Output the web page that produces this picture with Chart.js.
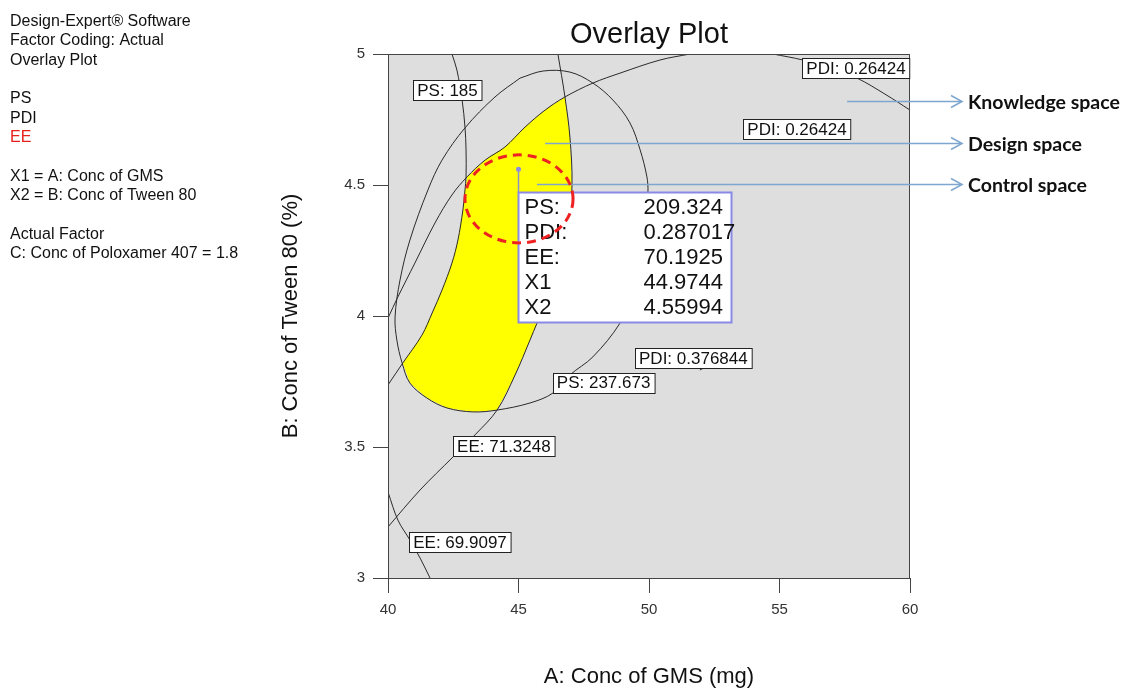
<!DOCTYPE html>
<html>
<head>
<meta charset="utf-8">
<title>Overlay Plot</title>
<script src="https://cdn.jsdelivr.net/npm/chart.js@4.4.0/dist/chart.umd.min.js"></script>
<style>
  html, body { margin: 0; padding: 0; background: #fff; }
  #wrap { position: relative; width: 1129px; height: 690px; }
</style>
</head>
<body>
<div id="wrap"><canvas id="overlay" width="1129" height="690"></canvas></div>
<script>
const FONT = "'Liberation Sans', Arial, sans-serif";

/* ===== AXES ===== */
const xTicks = [40, 45, 50, 55, 60];
const yTicks = [3, 3.5, 4, 4.5, 5];

/* ===== CONTOURS  [A: GMS mg, B: Tween 80 %] ===== */
const ps185 = [[42.45,5.0],[42.64,4.939],[42.84,4.824],[42.95,4.721],[42.99,4.634],[42.99,4.531],
  [42.95,4.481],[42.87,4.405],[42.68,4.290],[42.45,4.202],[42.07,4.099],[41.69,4.011],
  [41.30,3.927],[40.57,3.821],[40.0,3.737]];
const ps237 = [[45.06,4.908],[45.94,4.935],[46.97,4.931],[47.85,4.889],[48.62,4.824],[49.27,4.737],
  [49.66,4.634],[49.92,4.531],[49.96,4.473],[49.85,4.290],[49.58,4.118],[48.89,3.973],
  [47.85,3.844],[46.97,3.775],[46.32,3.706],[45.44,3.668],[44.18,3.641],[43.26,3.634],
  [42.26,3.649],[41.49,3.687],[40.84,3.744],[40.54,3.821],[40.34,3.908],[40.27,3.996],
  [40.46,4.137],[40.84,4.290],[41.53,4.481],[42.07,4.595],[42.95,4.718],[44.10,4.836],[45.06,4.908]];
const pdiInner = [[40.0,3.992],[40.38,4.073],[41.03,4.202],[41.80,4.355],[42.45,4.462],[43.03,4.531],
  [43.72,4.595],[44.48,4.645],[45.25,4.721],[46.02,4.786],[46.78,4.836],[47.85,4.889],
  [48.89,4.927],[50.42,4.977],[51.57,5.0]];
const pdiOuter = [[54.75,5.0],[55.90,4.977],[56.93,4.947],[57.97,4.908],[59.04,4.847],[60.0,4.786]];
const pdi376 = [[51.95,3.794],[52.41,3.817]];
const ee713 = [[46.51,5.0],[46.78,4.836],[46.97,4.683],[47.05,4.500],[46.90,4.328],[46.51,4.176],
  [46.02,4.042],[45.71,3.973],[45.44,3.908],[44.87,3.775],[44.18,3.641],[43.33,3.546],
  [42.49,3.462],[41.23,3.336],[40.0,3.195]];
const ee699 = [[40.0,3.328],[40.38,3.221],[40.84,3.145],[41.23,3.076],[41.61,3.0]];

/* design space (yellow) */
const designSpace = [[43.03,4.531],[43.72,4.595],[44.48,4.645],[45.25,4.721],[46.02,4.786],[46.78,4.836],
  [46.97,4.683],[47.05,4.500],[46.90,4.328],[46.51,4.176],[46.02,4.042],[45.71,3.973],
  [45.44,3.908],[44.87,3.775],[44.18,3.641],[43.26,3.634],[42.26,3.649],[41.49,3.687],
  [40.84,3.744],[40.57,3.821],[41.30,3.927],[41.69,4.011],[42.07,4.099],[42.45,4.202],
  [42.68,4.290],[42.87,4.405],[42.95,4.481],[43.03,4.531]];

/* contour flags */
const flagText = ['PS: 185','PDI: 0.26424','PDI: 0.26424','PDI: 0.376844','PS: 237.673','EE: 71.3248','EE: 69.9097'];
const flagAt   = [[42.28,4.861],[57.93,4.945],[55.67,4.712],[51.70,3.838],[48.26,3.746],[44.44,3.504],[42.76,3.137]];

/* selected point */
const tipNames  = ['PS:','PDI:','EE:','X1','X2'];
const tipValues = ['209.324','0.287017','70.1925','44.9744','4.55994'];
const tipPoint  = [44.9744, 4.55994];

/* control space ring + space callouts */
const ringCenter = [45.02, 4.447];
const ringRadius = [2.07, 0.168];
const spaceNames = ['Knowledge space','Design space','Control space'];
const spaceFrom  = [[57.59,4.821],[46.02,4.660],[45.71,4.504]];

const infoLines = ['Design-Expert® Software','Factor Coding: Actual','Overlay Plot','',
  'PS','PDI','EE','','X1 = A: Conc of GMS','X2 = B: Conc of Tween 80','',
  'Actual Factor','C: Conc of Poloxamer 407 = 1.8'];

const toXY = pts => pts.map(p => ({ x: p[0], y: p[1] }));
const contour = pts => ({
  data: toXY(pts), showLine: true, borderColor: '#2a2a2a', borderWidth: 1,
  pointRadius: 0, tension: 0.35, fill: false, order: 1
});

const decor = {
  id: 'decor',
  beforeDraw(chart) {
    const { ctx, chartArea: a } = chart;
    ctx.save();
    ctx.fillStyle = '#fff'; ctx.fillRect(0, 0, chart.width, chart.height);
    ctx.fillStyle = '#dedede'; ctx.fillRect(a.left, a.top, a.right - a.left, a.bottom - a.top);
    ctx.restore();
  },
  afterDatasetsDraw(chart) {
    const { ctx, chartArea: a, scales: { x, y } } = chart;
    ctx.save();
    ctx.strokeStyle = '#444'; ctx.lineWidth = 1;
    ctx.strokeRect(a.left + 0.5, a.top + 0.5, a.right - a.left - 1, a.bottom - a.top);

    // callout arrows
    ctx.strokeStyle = '#7ea6cf'; ctx.lineWidth = 1.5;
    spaceFrom.forEach((p, i) => {
      const x0 = x.getPixelForValue(p[0]), y0 = Math.round(y.getPixelForValue(p[1])) + 0.5;
      const tip = a.right + 52;
      ctx.beginPath(); ctx.moveTo(x0, y0); ctx.lineTo(tip, y0); ctx.stroke();
      ctx.beginPath(); ctx.moveTo(tip - 11, y0 - 6); ctx.lineTo(tip, y0); ctx.lineTo(tip - 11, y0 + 6); ctx.stroke();
      ctx.fillStyle = '#111'; ctx.font = "bold 19.5px Lato, 'Open Sans', sans-serif";
      ctx.textAlign = 'left'; ctx.textBaseline = 'middle';
      ctx.fillText(spaceNames[i], a.right + 58, y0 + 1);
    });

    // contour flags
    ctx.font = '17px ' + FONT; ctx.textAlign = 'center'; ctx.textBaseline = 'middle';
    flagText.forEach((t, i) => {
      const cx = x.getPixelForValue(flagAt[i][0]), cy = y.getPixelForValue(flagAt[i][1]);
      const w = ctx.measureText(t).width + 8, h = 20;
      const bx = Math.round(cx - w / 2) + 0.5, by = Math.round(cy - h / 2) + 0.5;
      ctx.fillStyle = '#fff'; ctx.fillRect(bx, by, w, h);
      ctx.strokeStyle = '#222'; ctx.lineWidth = 1; ctx.strokeRect(bx, by, w, h);
      ctx.fillStyle = '#111'; ctx.fillText(t, cx, cy + 1);
    });

    // selected point flag
    const px = Math.round(x.getPixelForValue(tipPoint[0])) + 0.5, py = y.getPixelForValue(tipPoint[1]);
    const bt = Math.round(py + 23) + 0.5, bw = 213, bh = 130;
    ctx.strokeStyle = '#9090c8'; ctx.lineWidth = 1.5;
    ctx.beginPath(); ctx.moveTo(px, py); ctx.lineTo(px, bt); ctx.stroke();
    ctx.fillStyle = '#8a8ae6'; ctx.beginPath(); ctx.arc(px, py, 2.5, 0, Math.PI * 2); ctx.fill();
    ctx.fillStyle = '#fff'; ctx.fillRect(px, bt, bw, bh);
    ctx.strokeStyle = '#8a8ae6'; ctx.lineWidth = 2; ctx.strokeRect(px, bt, bw, bh);
    ctx.fillStyle = '#111'; ctx.font = '22px ' + FONT; ctx.textAlign = 'left'; ctx.textBaseline = 'alphabetic';
    tipNames.forEach((n, i) => {
      ctx.fillText(n, px + 6, bt + 21 + i * 25);
      ctx.fillText(tipValues[i], px + 125, bt + 21 + i * 25);
    });

    // control space ring
    const cx = x.getPixelForValue(ringCenter[0]), cy = y.getPixelForValue(ringCenter[1]);
    const rx = x.getPixelForValue(ringCenter[0] + ringRadius[0]) - cx;
    const ry = cy - y.getPixelForValue(ringCenter[1] + ringRadius[1]);
    ctx.strokeStyle = '#ee2222'; ctx.lineWidth = 3; ctx.setLineDash([9, 6]);
    ctx.beginPath(); ctx.ellipse(cx, cy, rx, ry, 0, 0, Math.PI * 2); ctx.stroke();
    ctx.restore();
  },
  afterDraw(chart) {
    const { ctx, chartArea: a } = chart;
    ctx.save();
    ctx.fillStyle = '#111'; ctx.font = '29px ' + FONT; ctx.textAlign = 'center'; ctx.textBaseline = 'alphabetic';
    ctx.fillText('Overlay Plot', (a.left + a.right) / 2, 43);
    ctx.font = '16px ' + FONT; ctx.textAlign = 'left';
    infoLines.forEach((t, i) => {
      ctx.fillStyle = t === 'EE' ? '#e8201c' : '#111';
      ctx.fillText(t, 10, 26 + i * 19.35);
    });
    ctx.restore();
  }
};

/* ===== OVERLAY PLOT ===== */
new Chart(document.getElementById('overlay'), {
  type: 'scatter',
  data: {
    datasets: [
      contour(ps185), contour(ps237), contour(pdiInner), contour(pdiOuter),
      contour(pdi376), contour(ee713), contour(ee699),
      { data: toXY(designSpace), showLine: true, fill: 'shape', backgroundColor: '#ffff00',
        borderColor: 'rgba(0,0,0,0)', borderWidth: 0, pointRadius: 0, tension: 0, order: 10 }
    ]
  },
  options: {
    responsive: false, animation: false, devicePixelRatio: 1,
    layout: { padding: { left: 278, right: 219, top: 54, bottom: 0 } },
    plugins: { legend: { display: false }, tooltip: { enabled: false }, title: { display: false } },
    scales: {
      x: {
        type: 'linear', min: 40, max: 60,
        afterBuildTicks: s => { s.ticks = xTicks.map(v => ({ value: v })); },
        afterFit: s => { s.height = 112; },
        grid: { drawOnChartArea: false, drawTicks: true, tickLength: 15, color: '#444', tickColor: '#444' },
        border: { display: true, color: '#444', width: 1 },
        ticks: { padding: 8, color: '#333', maxRotation: 0, font: { family: FONT, size: 15 }, callback: v => String(v) },
        title: { display: true, text: 'A: Conc of GMS (mg)', color: '#111', padding: 0, font: { family: FONT, size: 22 } }
      },
      y: {
        type: 'linear', min: 3, max: 5,
        afterBuildTicks: s => { s.ticks = yTicks.map(v => ({ value: v })); },
        afterFit: s => { s.width = 110; },
        grid: { drawOnChartArea: false, drawTicks: true, tickLength: 15, color: '#444', tickColor: '#444' },
        border: { display: true, color: '#444', width: 1 },
        ticks: { padding: 8, color: '#333', font: { family: FONT, size: 15 }, callback: v => String(v) },
        title: { display: true, text: 'B: Conc of Tween 80 (%)', color: '#111', padding: 0, font: { family: FONT, size: 22 } }
      }
    }
  },
  plugins: [decor]
});
</script>
</body>
</html>
